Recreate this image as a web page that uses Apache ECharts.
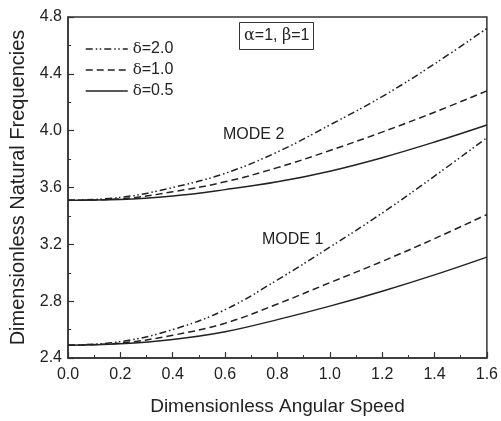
<!DOCTYPE html>
<html>
<head>
<meta charset="utf-8">
<script src="https://cdn.jsdelivr.net/npm/echarts@6/dist/echarts.min.js"></script>
<style>html,body{margin:0;padding:0;background:#fff}#c{width:501px;height:421px}</style>
</head>
<body>
<div id="c"></div>
<script>
const speeds = [0.0, 0.2, 0.4, 0.6, 0.8, 1.0, 1.2, 1.4, 1.6];
const mode1_d05 = [2.49, 2.50, 2.53, 2.585, 2.67, 2.765, 2.87, 2.985, 3.11];
const mode1_d10 = [2.49, 2.505, 2.56, 2.645, 2.78, 2.93, 3.08, 3.24, 3.41];
const mode1_d20 = [2.49, 2.515, 2.60, 2.74, 2.95, 3.18, 3.42, 3.68, 3.95];
const mode2_d05 = [3.51, 3.515, 3.54, 3.585, 3.64, 3.715, 3.81, 3.92, 4.04];
const mode2_d10 = [3.51, 3.52, 3.57, 3.64, 3.74, 3.86, 3.99, 4.13, 4.28];
const mode2_d20 = [3.51, 3.53, 3.60, 3.70, 3.85, 4.04, 4.24, 4.47, 4.72];
const legendNames = ['δ=2.0', 'δ=1.0', 'δ=0.5'];
const xTicks = {min: 0.0, max: 1.6, interval: 0.2};
const yTicks = {min: 2.4, max: 4.8, interval: 0.4};

const styles = {
  'δ=2.0': [7, 3, 1.5, 2.5, 1.5, 3],
  'δ=1.0': [7, 4],
  'δ=0.5': 'solid'
};
function pairs(arr) { return speeds.map((x, i) => [x, arr[i]]); }
function mk(name, arr) {
  return {
    name: name, type: 'line', data: pairs(arr), smooth: 0.4,
    symbol: 'none', showSymbol: false,
    lineStyle: {color: '#222', width: 1.5, type: styles[name]},
    itemStyle: {color: '#222'}
  };
}
const fontSans = 'Liberation Sans, Arial, sans-serif';
const chart = echarts.init(document.getElementById('c'), null, {renderer: 'canvas'});
chart.setOption({
  backgroundColor: '#fff',
  animation: false,
  grid: {left: 68, right: 13, top: 17, bottom: 63, show: true, borderColor: '#333', borderWidth: 1.5, backgroundColor: 'transparent'},
  xAxis: {
    type: 'value', min: xTicks.min, max: xTicks.max, interval: xTicks.interval,
    name: 'Dimensionless Angular Speed', nameLocation: 'middle', nameGap: 39,
    nameTextStyle: {fontFamily: fontSans, fontSize: 19, color: '#222'},
    axisLine: {show: true, lineStyle: {color: '#333', width: 1.5}},
    axisTick: {show: true, inside: true, length: 6, lineStyle: {color: '#333', width: 1.2}},
    minorTick: {show: true, splitNumber: 2, length: 3, lineStyle: {color: '#333', width: 1}},
    splitLine: {show: false},
    axisLabel: {formatter: v => v.toFixed(1), fontFamily: fontSans, fontSize: 16, color: '#222', margin: 9}
  },
  yAxis: {
    type: 'value', min: yTicks.min, max: yTicks.max, interval: yTicks.interval,
    name: 'Dimensionless Natural Frequencies', nameLocation: 'middle', nameGap: 40,
    nameTextStyle: {fontFamily: fontSans, fontSize: 20, color: '#222'},
    axisLine: {show: true, lineStyle: {color: '#333', width: 1.5}},
    axisTick: {show: true, inside: true, length: 6, lineStyle: {color: '#333', width: 1.2}},
    minorTick: {show: true, splitNumber: 2, length: 3, lineStyle: {color: '#333', width: 1}},
    splitLine: {show: false},
    axisLabel: {formatter: v => v.toFixed(1), fontFamily: fontSans, fontSize: 16, color: '#222', margin: 6}
  },
  legend: {
    data: legendNames, orient: 'vertical', left: 80, top: 36, itemGap: 5,
    itemWidth: 42, itemHeight: 16,
    itemStyle: {opacity: 0},
    lineStyle: {width: 1.5, color: '#222'},
    textStyle: {
      fontFamily: fontSans, fontSize: 16, color: '#222',
      rich: {g: {fontFamily: 'DejaVu Serif, serif', fontSize: 15, color: '#222'}, t: {fontFamily: fontSans, fontSize: 16, color: '#222'}}
    },
    formatter: n => '{g|δ}{t|' + n.slice(1) + '}'
  },
  title: {
    text: '{g|α}{t|=1, }{g|β}{t|=1}', left: 239, top: 22,
    borderColor: '#333', borderWidth: 1, padding: [6, 4, 6, 5],
    textStyle: {
      fontWeight: 'normal', fontSize: 16,
      rich: {g: {fontFamily: 'DejaVu Serif, serif', fontSize: 16, fontWeight: 'normal', color: '#222'}, t: {fontFamily: fontSans, fontSize: 16, fontWeight: 'normal', color: '#222'}}
    }
  },
  graphic: [
    {type: 'text', left: 223, top: 127, style: {text: 'MODE 2', font: '16px Liberation Sans, Arial, sans-serif', fill: '#222'}},
    {type: 'text', left: 262, top: 232, style: {text: 'MODE 1', font: '16px Liberation Sans, Arial, sans-serif', fill: '#222'}}
  ],
  series: [
    mk('δ=2.0', mode2_d20), mk('δ=1.0', mode2_d10), mk('δ=0.5', mode2_d05),
    mk('δ=2.0', mode1_d20), mk('δ=1.0', mode1_d10), mk('δ=0.5', mode1_d05)
  ]
});
</script>
</body>
</html>
